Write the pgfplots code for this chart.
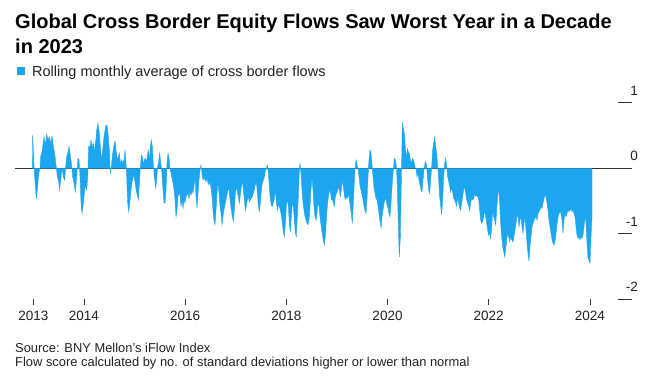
\documentclass[border=0pt]{standalone}
\usepackage{pgfplots}
\pgfplotsset{compat=1.18}
\usepackage{fontspec}
\setmainfont{Liberation Sans}
\definecolor{flowblue}{HTML}{1DA6F0}
\definecolor{axgray}{HTML}{333333}
\definecolor{txtgray}{HTML}{222222}

% x = year - 2000
\pgfplotstableread{
yr val
12.981 0.00
12.988 0.51
13.007 0.13
13.027 -0.13
13.060 -0.46
13.080 -0.33
13.106 -0.08
13.133 0.00
13.146 0.18
13.172 0.25
13.211 0.48
13.238 0.36
13.264 0.52
13.291 0.43
13.317 0.48
13.343 0.38
13.370 0.49
13.396 0.33
13.422 0.23
13.449 0.05
13.475 -0.13
13.501 -0.20
13.521 -0.33
13.541 -0.18
13.567 0.00
13.594 -0.13
13.620 -0.18
13.640 0.03
13.660 0.18
13.686 0.25
13.706 0.33
13.732 0.20
13.752 0.08
13.778 -0.13
13.804 -0.23
13.831 -0.36
13.857 -0.13
13.883 0.15
13.903 0.13
13.923 -0.13
13.943 -0.53
13.963 -0.69
13.982 -0.58
14.002 -0.43
14.028 -0.25
14.055 -0.33
14.075 -0.13
14.094 0.33
14.121 0.33
14.140 0.43
14.160 0.33
14.187 0.38
14.213 0.25
14.233 0.41
14.252 0.58
14.279 0.69
14.305 0.53
14.331 0.28
14.351 0.13
14.371 0.28
14.397 0.48
14.430 0.64
14.457 0.66
14.476 0.53
14.503 0.28
14.522 -0.08
14.542 0.03
14.569 0.23
14.595 0.36
14.615 0.41
14.634 0.28
14.661 0.13
14.681 0.18
14.700 0.23
14.727 0.05
14.746 0.13
14.766 0.08
14.793 0.13
14.812 0.28
14.839 0.00
14.865 -0.53
14.885 -0.66
14.905 -0.53
14.931 -0.33
14.957 -0.18
14.984 -0.10
15.010 -0.20
15.030 -0.33
15.056 -0.41
15.076 -0.48
15.096 -0.23
15.115 0.00
15.135 0.20
15.155 0.18
15.175 0.05
15.194 0.13
15.214 0.15
15.234 0.08
15.254 0.20
15.273 0.28
15.293 0.13
15.313 0.33
15.333 0.43
15.352 0.33
15.372 0.05
15.392 -0.13
15.418 -0.30
15.438 -0.18
15.458 0.03
15.478 0.10
15.497 0.23
15.517 0.10
15.537 -0.03
15.563 -0.33
15.583 -0.53
15.603 -0.53
15.623 -0.33
15.642 0.08
15.662 0.23
15.682 0.15
15.702 0.00
15.721 -0.08
15.741 -0.15
15.761 -0.23
15.781 -0.33
15.800 -0.48
15.820 -0.74
15.840 -0.64
15.860 -0.43
15.880 -0.38
15.899 -0.41
15.919 -0.58
15.939 -0.48
15.959 -0.61
15.978 -0.48
15.998 -0.53
16.018 -0.43
16.038 -0.41
16.057 -0.38
16.077 -0.46
16.097 -0.36
16.117 -0.41
16.137 -0.33
16.156 -0.38
16.176 -0.28
16.196 -0.13
16.216 -0.43
16.235 -0.61
16.255 -0.38
16.275 -0.18
16.295 -0.03
16.314 0.05
16.334 -0.08
16.354 -0.18
16.374 -0.13
16.393 -0.18
16.413 -0.20
16.433 -0.15
16.453 -0.23
16.472 -0.25
16.492 -0.20
16.512 -0.30
16.532 -0.43
16.551 -0.64
16.571 -0.79
16.591 -0.86
16.611 -0.64
16.631 -0.38
16.650 -0.23
16.670 -0.38
16.690 -0.58
16.710 -0.69
16.729 -0.86
16.756 -0.69
16.782 -0.58
16.808 -0.48
16.835 -0.38
16.854 -0.28
16.874 -0.38
16.894 -0.53
16.914 -0.64
16.933 -0.74
16.953 -0.81
16.973 -0.64
16.993 -0.38
17.013 -0.28
17.032 -0.36
17.052 -0.43
17.072 -0.53
17.092 -0.41
17.111 -0.28
17.131 -0.20
17.151 -0.33
17.171 -0.48
17.190 -0.64
17.210 -0.58
17.230 -0.48
17.250 -0.43
17.269 -0.51
17.289 -0.48
17.309 -0.46
17.329 -0.43
17.348 -0.38
17.368 -0.33
17.388 -0.25
17.408 -0.20
17.428 -0.38
17.447 -0.58
17.467 -0.66
17.487 -0.53
17.507 -0.33
17.526 -0.23
17.546 -0.18
17.566 -0.13
17.586 -0.05
17.605 0.00
17.625 0.05
17.645 -0.08
17.665 -0.28
17.684 -0.48
17.704 -0.56
17.724 -0.58
17.744 -0.53
17.764 -0.46
17.783 -0.33
17.803 -0.51
17.823 -0.64
17.843 -0.56
17.862 -0.58
17.882 -0.64
17.902 -0.71
17.922 -0.84
17.941 -0.97
17.961 -1.04
17.981 -0.84
18.001 -0.58
18.020 -0.46
18.040 -0.58
18.060 -0.84
18.080 -0.97
18.099 -0.74
18.119 -0.53
18.139 -0.58
18.159 -0.79
18.179 -0.99
18.198 -1.04
18.218 -0.74
18.238 -0.43
18.258 -0.03
18.271 0.08
18.290 -0.08
18.310 -0.33
18.330 -0.53
18.350 -0.64
18.370 -0.74
18.389 -0.79
18.409 -0.84
18.429 -0.86
18.449 -0.79
18.468 -0.58
18.488 -0.33
18.508 -0.13
18.528 -0.33
18.547 -0.58
18.567 -0.74
18.587 -0.79
18.607 -0.69
18.626 -0.53
18.646 -0.58
18.673 -0.79
18.699 -0.94
18.725 -1.07
18.752 -1.17
18.771 -1.04
18.791 -0.79
18.811 -0.58
18.831 -0.43
18.850 -0.36
18.870 -0.33
18.890 -0.48
18.910 -0.46
18.929 -0.53
18.949 -0.58
18.969 -0.43
18.989 -0.38
19.009 -0.36
19.028 -0.28
19.048 -0.33
19.068 -0.43
19.088 -0.33
19.107 -0.18
19.127 -0.28
19.147 -0.41
19.167 -0.48
19.186 -0.43
19.206 -0.46
19.226 -0.38
19.246 -0.48
19.265 -0.58
19.285 -0.69
19.305 -0.84
19.325 -0.53
19.345 -0.18
19.364 0.05
19.377 0.13
19.397 0.05
19.417 0.00
19.437 -0.13
19.457 -0.28
19.476 -0.33
19.496 -0.41
19.516 -0.48
19.536 -0.58
19.555 -0.64
19.575 -0.69
19.595 -0.48
19.615 -0.13
19.634 0.13
19.654 0.28
19.674 0.23
19.694 0.05
19.713 -0.13
19.733 -0.30
19.753 -0.38
19.773 -0.46
19.792 -0.48
19.812 -0.58
19.832 -0.69
19.852 -0.81
19.872 -0.91
19.891 -0.74
19.911 -0.64
19.931 -0.53
19.951 -0.48
19.970 -0.46
19.990 -0.56
20.010 -0.61
20.030 -0.69
20.049 -0.74
20.069 -0.53
20.089 -0.28
20.109 -0.08
20.135 0.15
20.155 0.13
20.175 0.03
20.194 -0.28
20.214 -0.89
20.234 -1.35
20.254 -1.04
20.273 -0.23
20.293 0.69
20.313 0.61
20.333 0.53
20.352 0.33
20.372 0.13
20.392 0.30
20.412 0.25
20.431 0.23
20.451 0.13
20.471 0.08
20.491 0.15
20.510 0.13
20.530 0.08
20.550 0.00
20.563 0.00
20.583 -0.13
20.603 -0.08
20.622 -0.18
20.642 -0.25
20.662 -0.33
20.682 -0.36
20.702 -0.18
20.721 -0.03
20.741 0.08
20.754 0.10
20.774 0.03
20.794 -0.18
20.814 -0.33
20.833 -0.38
20.853 -0.18
20.873 0.03
20.893 0.28
20.912 0.38
20.932 0.48
20.952 0.33
20.972 0.23
20.991 0.03
21.011 -0.18
21.031 -0.43
21.051 -0.58
21.070 -0.71
21.090 -0.48
21.110 -0.13
21.130 0.08
21.149 0.15
21.169 0.03
21.189 -0.13
21.209 -0.20
21.229 -0.28
21.248 -0.36
21.268 -0.30
21.288 -0.36
21.308 -0.46
21.327 -0.48
21.347 -0.53
21.367 -0.58
21.387 -0.43
21.406 -0.53
21.426 -0.61
21.446 -0.64
21.466 -0.53
21.485 -0.43
21.505 -0.33
21.525 -0.28
21.545 -0.38
21.564 -0.48
21.584 -0.53
21.604 -0.58
21.624 -0.64
21.644 -0.53
21.663 -0.46
21.683 -0.48
21.703 -0.46
21.723 -0.38
21.742 -0.43
21.762 -0.41
21.782 -0.43
21.802 -0.48
21.821 -0.64
21.841 -0.79
21.861 -0.84
21.881 -0.81
21.900 -0.74
21.920 -0.64
21.940 -0.74
21.960 -0.84
21.979 -0.94
21.999 -1.02
22.019 -0.99
22.039 -1.07
22.059 -0.89
22.078 -0.64
22.098 -0.74
22.118 -0.79
22.138 -0.86
22.157 -0.64
22.177 -0.43
22.197 -0.30
22.217 -0.53
22.236 -0.84
22.256 -1.04
22.276 -1.19
22.296 -1.27
22.315 -1.35
22.335 -1.24
22.355 -1.09
22.375 -0.99
22.394 -1.04
22.414 -1.12
22.434 -1.04
22.454 -1.09
22.480 -1.12
22.500 -1.04
22.520 -0.94
22.540 -0.84
22.559 -0.74
22.579 -0.71
22.599 -0.89
22.619 -0.79
22.638 -0.74
22.658 -0.89
22.678 -0.99
22.698 -0.84
22.717 -0.74
22.737 -0.94
22.757 -1.14
22.777 -1.30
22.796 -1.42
22.816 -1.19
22.836 -1.04
22.856 -0.89
22.875 -0.84
22.895 -0.79
22.915 -0.76
22.935 -0.74
22.955 -0.79
22.974 -0.69
22.994 -0.66
23.014 -0.64
23.034 -0.58
23.053 -0.61
23.073 -0.53
23.093 -0.46
23.113 -0.41
23.132 -0.43
23.152 -0.53
23.172 -0.64
23.192 -0.79
23.211 -0.89
23.231 -0.99
23.251 -1.09
23.271 -1.14
23.291 -1.17
23.310 -1.12
23.330 -0.99
23.350 -0.86
23.370 -0.74
23.389 -0.69
23.409 -0.66
23.429 -0.69
23.449 -0.79
23.468 -0.99
23.488 -0.79
23.508 -0.69
23.528 -0.74
23.547 -0.69
23.567 -0.64
23.587 -0.66
23.607 -0.64
23.626 -0.61
23.646 -0.66
23.666 -0.64
23.686 -0.69
23.706 -0.74
23.725 -0.89
23.745 -1.02
23.765 -1.07
23.785 -1.04
23.804 -1.09
23.824 -1.04
23.844 -1.07
23.864 -1.02
23.883 -0.89
23.903 -0.74
23.923 -0.84
23.943 -1.14
23.962 -1.37
23.982 -1.40
24.002 -1.45
24.022 -1.04
24.042 -0.74
}\flowdata

\begin{document}
\begin{tikzpicture}
\useasboundingbox[fill=white] (0,0) rectangle (654bp,384bp);
% title
\node[anchor=base west, inner sep=0pt, font=\fontsize{20bp}{24bp}\selectfont\bfseries] at (15bp,355bp) {Global Cross Border Equity Flows Saw Worst Year in a Decade};
\node[anchor=base west, inner sep=0pt, font=\fontsize{20bp}{24bp}\selectfont\bfseries] at (15bp,330.7bp) {in 2023};
% legend
\fill[flowblue] (16.5bp,308.5bp) rectangle (24.5bp,316.5bp);
\node[anchor=base west, inner sep=0pt, text=txtgray, font=\fontsize{14.5bp}{17bp}\selectfont] at (32bp,307bp) {Rolling monthly average of cross border flows};
% footer
\node[anchor=base west, inner sep=0pt, text=txtgray, font=\fontsize{12.9bp}{15bp}\selectfont] at (15bp,32bp) {Source: BNY Mellon's iFlow Index};
\node[anchor=base west, inner sep=0pt, text=txtgray, font=\fontsize{12.9bp}{15bp}\selectfont] at (15bp,18bp) {Flow score calculated by no. of standard deviations higher or lower than normal};

\begin{axis}[
  at={(15bp,84.5bp)}, anchor=south west,
  scale only axis, width=617bp, height=196.8bp,
  xmin=12.638, xmax=24.832, ymin=-2, ymax=1,
  axis line style={draw=none},
  clip=false,
  xtick={13,14,16,18,20,22,24},
  xticklabels={2013,2014,2016,2018,2020,2022,2024},
  xtick pos=bottom,
  tick align=outside, major tick length=6bp,
  xtick style={draw=axgray, line width=0.8bp},
  xticklabel style={font=\fontsize{13.5bp}{16bp}\selectfont, text=txtgray, inner sep=0pt, anchor=north, yshift=-5bp},
  ytick={-2,-1,0,1}, yticklabels={-2,-1,0,1},
  ytick pos=right, yticklabel pos=right,
  ytick style={draw=none},
  yticklabel style={font=\fontsize{13.5bp}{16bp}\selectfont, text=txtgray, inner sep=0pt, anchor=south east, yshift=7.5bp},
]
\addplot[draw=axgray, line width=1bp] coordinates {(12.638,0) (24.832,0)};
\addplot[fill=flowblue, draw=flowblue, line width=0.4bp] table[x=yr, y=val] {\flowdata} \closedcycle;
\draw[axgray, line width=1bp] (axis cs:24.555,1) -- (axis cs:24.832,1);
\draw[axgray, line width=1bp] (axis cs:24.555,-1) -- (axis cs:24.832,-1);
\draw[axgray, line width=1bp] (axis cs:24.555,-2) -- (axis cs:24.832,-2);
\end{axis}
\end{tikzpicture}
\end{document}
